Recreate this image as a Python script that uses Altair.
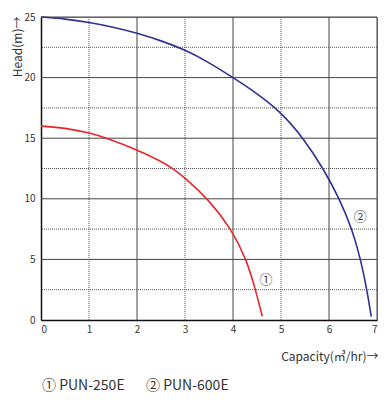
import altair as alt
import pandas as pd

# Curve readings (capacity m3/hr, head m)
red_x = [0, 0.5, 1.0, 1.38, 2.0, 2.5, 2.75, 3.0, 3.48, 3.97, 4.28, 4.47, 4.61]
red_y = [16, 15.85, 15.45, 15.0, 14.05, 13.1, 12.5, 11.72, 10.0, 7.5, 5.0, 2.5, 0.3]
blue_x = [0, 0.5, 1.0, 1.5, 2.0, 2.5, 3.0, 3.5, 4.0, 4.5, 5.0, 5.47, 5.88, 6.22, 6.48, 6.66, 6.79, 6.88]
blue_y = [25, 24.85, 24.56, 24.18, 23.68, 23.05, 22.3, 21.25, 20.0, 18.7, 17.15, 15.0, 12.5, 10.0, 7.5, 5.0, 2.5, 0.27]
series_names = ["PUN-250E", "PUN-600E"]
series_colors = ["#e8262a", "#2e3192"]

x_solid = [2, 4, 6, 7]
x_dotted = [1, 3, 5]
y_solid = [5, 10, 15, 20, 25]
y_dotted = [2.5, 7.5, 12.5, 17.5, 22.5]

label_text = ["①", "②"]
label_x = [4.69, 6.65]
label_y = [3.3, 8.5]

legend_text = ["① PUN-250E", "② PUN-600E"]
legend_px = [1, 105]

rows = []
for x, y in zip(red_x, red_y):
    rows.append({"q": x, "h": y, "s": series_names[0]})
for x, y in zip(blue_x, blue_y):
    rows.append({"q": x, "h": y, "s": series_names[1]})
df = pd.DataFrame(rows)

xs = alt.Scale(domain=[0, 7], nice=False)
ys = alt.Scale(domain=[0, 25], nice=False)

FONT = "Noto Sans CJK KR"

vsolid = alt.Chart(pd.DataFrame({"v": x_solid})).mark_rule(color="#444", strokeWidth=1).encode(
    x=alt.X("v:Q", scale=xs))
vdot = alt.Chart(pd.DataFrame({"v": x_dotted})).mark_rule(color="#555", strokeWidth=1, strokeDash=[1, 1]).encode(
    x=alt.X("v:Q", scale=xs))
hsolid = alt.Chart(pd.DataFrame({"v": y_solid})).mark_rule(color="#444", strokeWidth=1).encode(
    y=alt.Y("v:Q", scale=ys))
hdot = alt.Chart(pd.DataFrame({"v": y_dotted})).mark_rule(color="#555", strokeWidth=1, strokeDash=[1, 1]).encode(
    y=alt.Y("v:Q", scale=ys))

lines = alt.Chart(df).mark_line(strokeWidth=1.6, interpolate="basis").encode(
    x=alt.X("q:Q", scale=xs,
            axis=alt.Axis(values=[0, 1, 2, 3, 4, 5, 6, 7], grid=False, ticks=False,
                          domainColor="#111", domainWidth=1.5, labelFont=FONT, labelFontSize=10,
                          labelColor="#333", labelPadding=4,
                          title="Capacity(㎥/hr)→", titleFont=FONT, titleFontSize=12,
                          titleFontWeight="normal", titleColor="#333", titleAlign="right",
                          titleAnchor="end", titleX=337, titleY=40, titleBaseline="alphabetic")),
    y=alt.Y("h:Q", scale=ys,
            axis=alt.Axis(values=[0, 5, 10, 15, 20, 25], grid=False, ticks=False,
                          domainColor="#111", domainWidth=1.5, labelFont=FONT, labelFontSize=10,
                          labelColor="#333", labelPadding=6,
                          title="Head(m)→", titleFont=FONT, titleFontSize=12,
                          titleFontWeight="normal", titleColor="#333", titleAngle=-90,
                          titleAlign="right", titleX=-24, titleY=-1, titleBaseline="middle")),
    color=alt.Color("s:N", scale=alt.Scale(domain=series_names, range=series_colors), legend=None),
    detail="s:N",
)

labels = alt.Chart(pd.DataFrame({"t": label_text, "x": label_x, "y": label_y})).mark_text(
    font=FONT, fontSize=13, color="#444").encode(
    x=alt.X("x:Q", scale=xs), y=alt.Y("y:Q", scale=ys), text="t:N")

legend = alt.Chart(pd.DataFrame({"t": legend_text, "px": legend_px})).mark_text(
    font=FONT, fontSize=14, color="#333", align="left", baseline="middle").encode(
    x=alt.X("px:Q", scale=None), y=alt.value(369), text="t:N")

chart = alt.layer(vsolid, vdot, hsolid, hdot, lines, labels, legend).properties(
    width=336, height=303,
    autosize=alt.AutoSizeParams(type="none"),
    padding={"left": 33, "top": 9, "right": 3, "bottom": 78},
).configure_view(stroke="#888", strokeWidth=1)

chart.save("out.html", embed_options={"renderer": "svg", "actions": False})
